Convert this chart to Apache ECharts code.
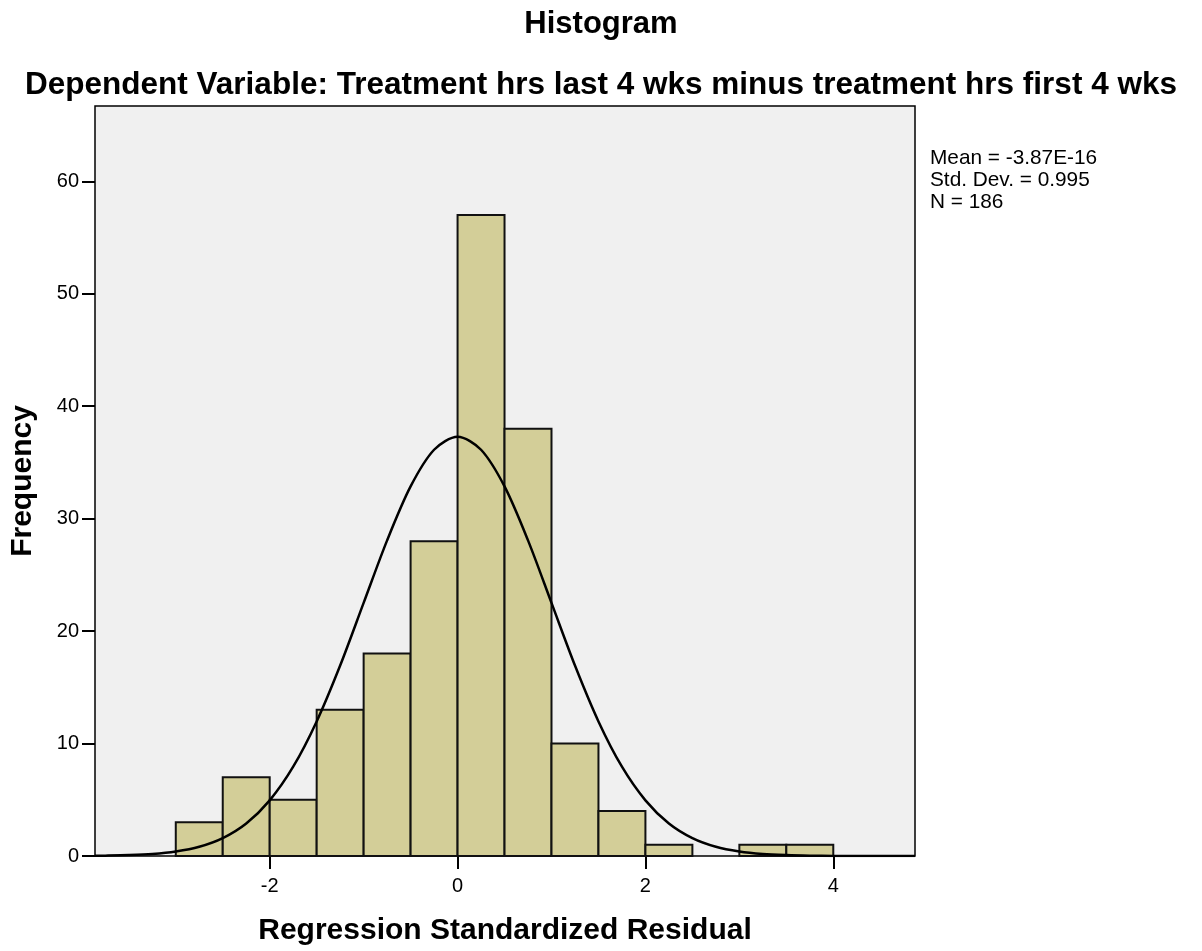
<!DOCTYPE html>
<html>
<head>
<meta charset="utf-8">
<title>Histogram</title>
<script src="https://cdn.jsdelivr.net/npm/echarts@6/dist/echarts.min.js"></script>
<style>
  html, body { margin: 0; padding: 0; background: #ffffff; }
  #chart { width: 1202px; height: 951px; }
</style>
</head>
<body>
<div id="chart"></div>
<script>
// Histogram bins (left edge, width 0.5) and their frequencies
const binStarts = [-3, -2.5, -2, -1.5, -1, -0.5, 0, 0.5, 1, 1.5, 2, 2.5, 3, 3.5];
const binCounts = [3, 7, 5, 13, 18, 28, 57, 38, 10, 4, 1, 0, 1, 1];
const binWidth = 0.5;

// Fitted normal curve, sampled along the residual axis
const curveX = [-3.86, -3.75, -3.5, -3.25, -3, -2.75, -2.5, -2.25, -2, -1.75, -1.5, -1.25, -1, -0.75, -0.5, -0.25,
  0, 0.25, 0.5, 0.75, 1, 1.25, 1.5, 1.75, 2, 2.25, 2.5, 2.75, 3, 3.25, 3.5, 3.75, 4, 4.25, 4.5, 4.75, 4.87];
const curveY = [0.02, 0.03, 0.08, 0.18, 0.40, 0.82, 1.59, 2.89, 4.95, 7.94, 11.97, 16.94, 22.51, 28.07, 32.87, 36.13,
  37.29, 36.13, 32.87, 28.07, 22.51, 16.94, 11.97, 7.94, 4.95, 2.89, 1.59, 0.82, 0.40, 0.18, 0.08, 0.03, 0.01, 0.00, 0.00, 0.00, 0.00];

// Axis ticks
const xTicks = [-2, 0, 2, 4];
const yTicks = [0, 10, 20, 30, 40, 50, 60];

// Summary statistics
const statsLines = ['Mean = -3.87E-16', 'Std. Dev. = 0.995', 'N = 186'];

const FONT = "'Liberation Sans', Arial, Helvetica, sans-serif";

const barData = binStarts
  .map((s, i) => [s, s + binWidth, binCounts[i]])
  .filter(d => d[2] > 0);

const chart = echarts.init(document.getElementById('chart'), null, { renderer: 'canvas' });

chart.setOption({
  backgroundColor: '#ffffff',
  animation: false,
  title: [
    {
      text: 'Histogram',
      left: 'center',
      top: 4,
      textStyle: { fontFamily: FONT, fontSize: 31, fontWeight: 'bold', color: '#000' }
    },
    {
      text: 'Dependent Variable: Treatment hrs last 4 wks minus treatment hrs first 4 wks',
      left: 'center',
      top: 64,
      textStyle: { fontFamily: FONT, fontSize: 31.5, fontWeight: 'bold', color: '#000' }
    }
  ],
  grid: {
    left: 95, right: 287, top: 106, bottom: 94,
    show: true,
    backgroundColor: '#f0f0f0',
    borderColor: '#000000',
    borderWidth: 1.5
  },
  xAxis: {
    type: 'value',
    min: -3.86,
    max: 4.87,
    name: 'Regression Standardized Residual',
    nameLocation: 'middle',
    nameGap: 60,
    nameTextStyle: { fontFamily: FONT, fontSize: 30, fontWeight: 'bold', color: '#000' },
    axisLine: { show: false, onZero: false },
    axisTick: { show: true, length: 13, lineStyle: { color: '#000', width: 2 }, customValues: xTicks },
    axisLabel: { fontFamily: FONT, fontSize: 20, color: '#000', margin: 20, customValues: xTicks },
    splitLine: { show: false }
  },
  yAxis: {
    type: 'value',
    min: 0,
    max: 66.7,
    name: 'Frequency',
    nameLocation: 'middle',
    nameGap: 57,
    nameTextStyle: { fontFamily: FONT, fontSize: 30, fontWeight: 'bold', color: '#000' },
    axisLine: { show: false, onZero: false },
    axisTick: { show: true, length: 13, lineStyle: { color: '#000', width: 2 }, customValues: yTicks },
    axisLabel: { fontFamily: FONT, fontSize: 20, color: '#000', margin: 16, customValues: yTicks },
    splitLine: { show: false }
  },
  graphic: [
    {
      type: 'text',
      left: 930,
      top: 147,
      style: {
        text: statsLines.join('\n'),
        font: '20.8px ' + FONT,
        lineHeight: 22,
        fill: '#000'
      }
    }
  ],
  series: [
    {
      type: 'custom',
      data: barData,
      encode: { x: [0, 1], y: 2 },
      renderItem: function (params, api) {
        const p0 = api.coord([api.value(0), api.value(2)]);
        const p1 = api.coord([api.value(1), 0]);
        return {
          type: 'rect',
          shape: { x: p0[0], y: p0[1], width: p1[0] - p0[0], height: p1[1] - p0[1] },
          style: { fill: '#d3ce98', stroke: '#111111', lineWidth: 2 }
        };
      },
      z: 2
    },
    {
      type: 'line',
      data: curveX.map((x, i) => [x, curveY[i]]),
      smooth: 0.3,
      showSymbol: false,
      lineStyle: { color: '#000', width: 2.5 },
      z: 3
    }
  ]
});
</script>
</body>
</html>
